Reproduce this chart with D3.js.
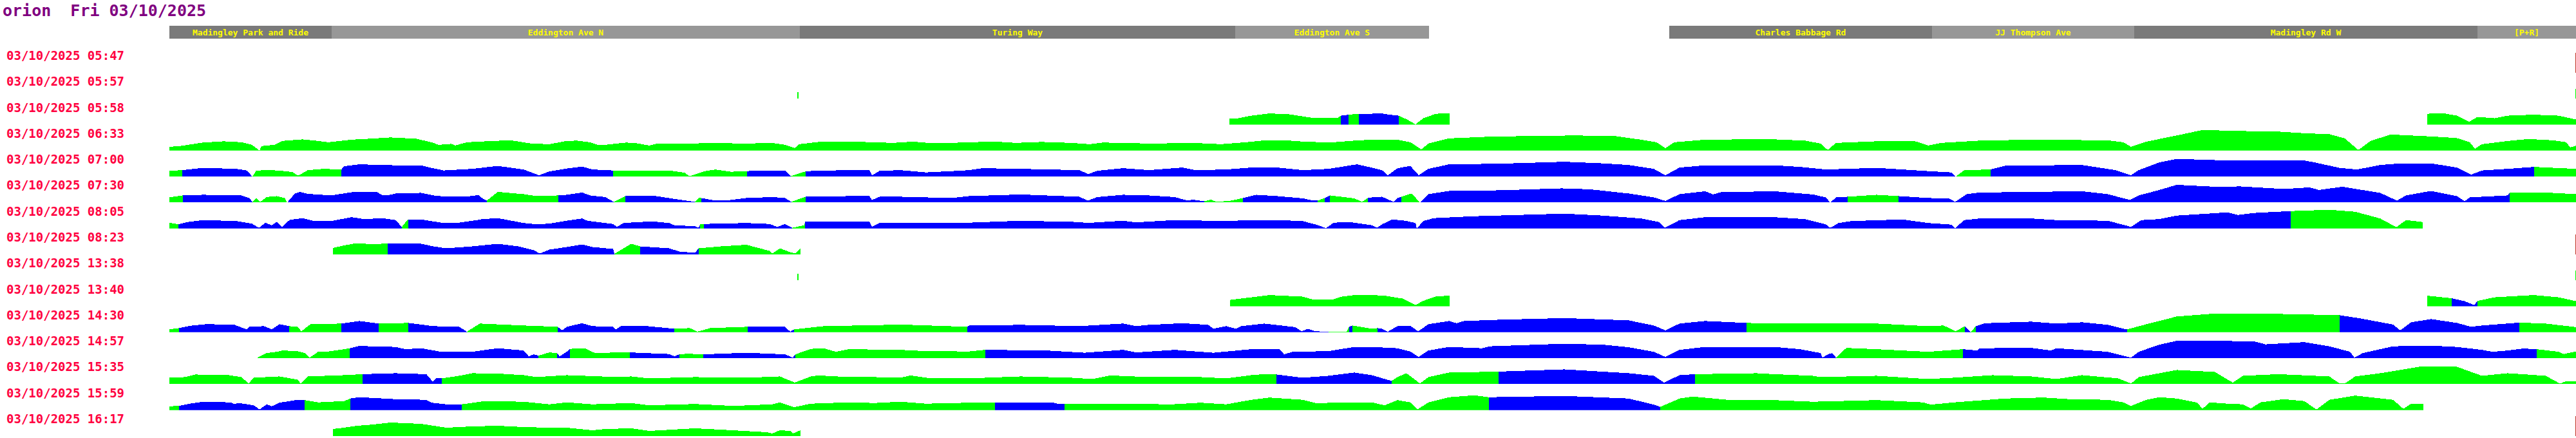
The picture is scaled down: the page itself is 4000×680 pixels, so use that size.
<!DOCTYPE html>
<html><head><meta charset="utf-8">
<script src="https://cdn.jsdelivr.net/npm/d3@7"></script>
<style>body{margin:0;background:#fff;overflow:hidden}</style>
</head><body>
<svg id="chart" width="4000" height="680"></svg>
<script>
// ---------- DATA ----------
const title = "orion  Fri 03/10/2025";
const runTimes = ["05:47","05:57","05:58","06:33","07:00","07:30","08:05","08:23","13:38","13:40","14:30","14:57","15:35","15:59","16:17"];
const runDate = "03/10/2025";

const stopNames = ["Madingley Park and Ride","Eddington Ave N","Turing Way","Eddington Ave S","Charles Babbage Rd","JJ Thompson Ave","Madingley Rd W","[P+R]"];
const stopFrom = [0,252,979,1655,2329,2737,3051,3584];
const stopTo   = [252,979,1655,1956,2737,3051,3584,3737];

// profiles: [distance along route, speed]
const p0558a = [[1646,10],[1660,10],[1680,14],[1708,17.5],[1740,16],[1772,11],[1815,11],[1819,14],[1831,15.5],[1847,17],[1867,17],[1879,18],[1891,16],[1909,14],[1923,7.5],[1935,0.5],[1947,10],[1967,17],[1988,17.5]];
const p0558b = [[3506,17],[3532,17.5],[3552,14],[3571,4.5],[3584,12],[3611,10],[3631,14],[3671,15.5],[3710,14],[3737,8]];
const c0558 = [[1646,"g"],[1819,"b"],[1831,"g"],[1847,"b"],[1909,"g"]];

const p0633 = [[0,6],[16,7],[52,12.5],[84,14.5],[112,13],[128,9],[140,0],[143,7],[163,9],[175,15],[207,17.5],[231,15],[247,13],[283,17],[311,18.5],[343,20.5],[383,18.5],[407,13],[418,9],[438,10.5],[444,8],[462,13],[502,15],[530,16],[562,11],[590,10],[606,13],[617,15],[633,15.5],[653,13],[665,9],[677,9],[709,12.5],[725,11.5],[745,8],[756,10.5],[816,11],[832,12],[896,11],[936,12],[956,9],[971,4],[978,10],[1008,13.5],[1055,14],[1095,13],[1123,12],[1155,14],[1183,11.5],[1215,12],[1242,13],[1282,14],[1314,12],[1354,13.5],[1401,12],[1429,10],[1449,12.5],[1481,12],[1521,11],[1561,11.5],[1601,11.5],[1633,10],[1672,13],[1696,15.5],[1740,15.5],[1768,13.5],[1808,13],[1840,15.5],[1867,17],[1907,17],[1927,13],[1944,2],[1955,11],[1987,19],[2046,21.5],[2126,23],[2186,23.5],[2246,22.5],[2285,17],[2309,13],[2323,4],[2337,13],[2385,17],[2445,17.5],[2492,17.5],[2540,15.5],[2564,11],[2575,1],[2588,12],[2651,14.5],[2711,14.5],[2731,8],[2751,12],[2811,15.5],[2891,17],[3010,16],[3034,13],[3046,6],[3070,14],[3117,23.5],[3157,32],[3216,30.5],[3275,29.5],[3315,27],[3354,25.5],[3378,19],[3399,1],[3418,15],[3449,25],[3512,22],[3552,19.5],[3572,13],[3580,3],[3591,10],[3631,15],[3663,18],[3702,16],[3722,13],[3728,5],[3737,7.5]];
const c0633 = [[0,"g"]];

const p0700 = [[0,9],[20,10],[52,13.5],[104,12],[120,9.5],[129,0],[135,9.5],[159,10],[179,8.5],[191,7],[200,1.5],[215,10],[239,12],[267,11],[271,16],[295,19],[351,17.5],[391,17.5],[407,13.5],[426,9.5],[470,12],[510,16.5],[550,11],[574,2],[590,8],[617,12.5],[641,15.5],[657,11],[689,9.5],[717,9.5],[776,9.5],[800,6],[808,0.5],[832,8.5],[848,11],[872,7.5],[897,8.5],[920,9.5],[956,9.5],[965,0.5],[986,7.5],[988,8],[1000,9],[1055,10],[1087,10],[1091,2],[1103,9],[1135,10],[1175,6.5],[1215,8.5],[1242,10],[1262,13],[1322,12],[1413,10],[1427,4],[1441,9],[1481,13],[1521,10],[1573,14],[1593,10],[1641,11],[1680,14],[1720,14],[1760,10],[1800,12],[1844,19],[1867,14],[1883,10],[1892,2],[1907,13],[1927,16.5],[1940,2],[1955,12],[1987,19],[2066,20],[2166,23],[2226,20.5],[2266,18],[2305,12],[2323,2],[2345,14],[2385,17.5],[2492,17.5],[2532,15],[2572,11],[2651,13.5],[2731,8.5],[2767,6.5],[2774,0],[2787,10],[2828,11],[2851,17],[2970,18],[3022,10],[3046,2],[3058,10],[3090,22],[3117,27.5],[3196,25],[3315,25],[3331,22],[3370,13.5],[3397,11],[3433,18],[3465,20.5],[3512,20.5],[3552,14],[3574,3],[3591,9.5],[3631,12],[3672,15],[3737,12]];
const c0700 = [[0,"g"],[20,"b"],[129,"g"],[267,"b"],[689,"g"],[897,"b"],[965,"g"],[988,"b"],[2774,"g"],[2828,"b"],[3672,"g"]];

const p0730 = [[0,8],[21,11],[52,12],[112,11],[124,7],[129,1],[135,6.5],[141,1],[151,8.5],[167,10],[179,7],[183,0],[195,14],[203,16.5],[215,13.5],[251,11],[283,16],[323,16],[331,11],[343,12],[351,14],[391,15],[410,11],[430,9],[470,10],[480,12],[486,6.5],[493,3],[510,16.5],[550,13],[570,10],[604,11],[617,12],[641,15.5],[653,11],[677,8.5],[690,1],[707,9.5],[708,10],[756,10],[788,5],[816,1],[822,7],[826,7],[848,3],[864,3],[896,7],[936,8.5],[956,7],[966,1],[982,7],[988,9],[1055,10],[1087,10],[1091,4],[1103,9],[1135,9],[1215,7],[1242,10],[1322,12.5],[1413,9],[1426,3],[1441,8.5],[1481,12],[1521,11],[1561,8.5],[1581,3],[1589,4.5],[1607,2],[1617,4.5],[1627,1],[1649,3],[1667,7],[1688,12],[1720,10],[1760,6.5],[1776,3],[1783,3],[1794,7],[1802,11],[1840,6.5],[1852,1],[1861,7],[1867,8],[1883,9],[1901,1],[1907,7],[1919,11],[1929,14],[1942,0],[1955,13],[1987,18],[2066,19],[2162,22],[2206,20.5],[2266,14],[2305,8],[2323,2.5],[2345,13],[2385,17.5],[2397,12.5],[2409,16],[2492,17.5],[2552,12.5],[2572,8],[2579,0],[2588,8],[2606,9],[2651,12],[2685,10],[2731,7],[2763,6.5],[2773,1],[2791,13],[2811,15.5],[2891,16.5],[2970,17.5],[3010,13],[3044,4],[3058,11],[3090,19.5],[3117,27.5],[3176,24.5],[3216,25],[3283,21],[3323,23.5],[3338,19.5],[3374,24.5],[3433,15],[3459,3],[3473,11],[3512,18],[3552,10],[3564,2],[3572,8],[3631,11],[3634,15.5],[3690,15.5],[3737,13]];
const c0730 = [[0,"g"],[21,"b"],[129,"g"],[183,"b"],[493,"g"],[604,"b"],[690,"g"],[708,"b"],[816,"g"],[826,"b"],[966,"g"],[988,"b"],[1607,"g"],[1667,"b"],[1783,"g"],[1794,"b"],[1802,"g"],[1861,"b"],[1913,"g"],[1942,"b"],[2606,"g"],[2685,"b"],[3634,"g"]];

const p0805 = [[0,9],[14,6.5],[28,10],[52,13],[104,11.5],[128,7.5],[139,1],[149,9],[159,5],[167,10.5],[175,2.5],[187,13.5],[207,16],[223,12],[251,11.5],[283,17.5],[303,14.5],[331,16],[351,13],[361,2.5],[367,10],[371,14],[391,14],[422,9],[450,9],[478,13],[486,14.5],[510,16],[550,8.5],[570,6.5],[590,7.5],[617,12],[641,15.5],[649,12],[689,7],[695,2.5],[705,8.5],[749,11],[776,8.5],[784,5],[816,3.5],[822,1],[824,6.5],[830,7],[896,8.5],[932,7],[944,2.5],[956,7],[967,1],[986,5],[987,10.5],[1087,10.5],[1091,2.5],[1103,9],[1175,8.5],[1242,9],[1322,12],[1413,10],[1425,8.5],[1481,12],[1501,9.5],[1561,13],[1641,11.5],[1680,13],[1720,13],[1760,11.5],[1784,5],[1796,0.5],[1808,9],[1832,10],[1867,5],[1875,1],[1883,6.5],[1899,14],[1919,12],[1935,8.5],[1937,0],[1947,11.5],[1963,16],[2026,19],[2166,23],[2226,20],[2285,15.5],[2313,10],[2322,1],[2345,13],[2385,17.5],[2492,17.5],[2540,14.5],[2572,6.5],[2579,1],[2592,8.5],[2612,11.5],[2691,14],[2731,8.5],[2767,6],[2773,0.5],[2787,13],[2811,15.5],[2891,15.5],[2930,13],[3010,12],[3046,2.5],[3062,13],[3090,14.5],[3117,20],[3196,25],[3212,21],[3236,24],[3294,27],[3354,29],[3394,26],[3433,15.5],[3458,2],[3473,13],[3499,10]];
const c0805 = [[0,"g"],[14,"b"],[361,"g"],[371,"b"],[824,"g"],[830,"b"],[967,"g"],[987,"b"],[3294,"g"]];

const p0823 = [[254,10],[271,14],[291,17.5],[319,15.5],[339,17.5],[391,16.5],[410,12.5],[430,9.5],[470,12.5],[510,16.5],[542,12.5],[566,6.5],[575,1.5],[590,7.5],[617,11.5],[641,15.5],[657,11.5],[689,8.5],[691,1],[717,16.5],[731,12.5],[776,9.5],[792,4.5],[816,2.5],[822,9.5],[856,12.5],[896,15],[932,5.5],[936,1.5],[948,9.5],[964,3.5],[972,1.5],[980,10]];
const c0823 = [[254,"g"],[339,"b"],[691,"g"],[731,"b"],[822,"g"]];

const p1340a = [[1647,10],[1680,14],[1708,17.5],[1760,15],[1776,10.5],[1808,11],[1820,15],[1840,17.5],[1867,17.5],[1887,16.5],[1915,12],[1935,2],[1947,8.5],[1967,15.5],[1988,16.5]];
const p1340b = [[3506,16.5],[3544,12.5],[3564,8],[3579,2],[3584,8.5],[3611,14],[3671,17.5],[3710,14],[3737,8]];
const c1340 = [[1647,"g"],[3544,"b"],[3584,"g"]];

const p1430 = [[0,4.5],[15,6.5],[32,10],[56,12.5],[100,12],[120,4.5],[124,8.5],[147,9.5],[159,4.5],[171,12.5],[186,9.5],[199,8.5],[205,1.5],[219,12.5],[267,13.5],[295,17.5],[325,13.5],[371,14.5],[410,9.5],[450,8.5],[462,1],[482,13.5],[550,10.5],[603,8.5],[610,3],[617,8.5],[641,14],[657,9.5],[689,8.5],[693,4],[701,9.5],[737,10],[784,5.5],[808,6.5],[820,1],[840,6.5],[898,8.5],[956,8.5],[964,1],[970,4.5],[1016,9.5],[1095,11],[1135,12],[1239,8.5],[1242,10.5],[1322,11.5],[1413,9.5],[1481,13.5],[1501,9.5],[1521,11.5],[1573,14],[1613,11.5],[1621,5.5],[1641,9.5],[1656,5.5],[1664,9.5],[1700,13.5],[1748,8],[1758,1.5],[1768,5.5],[1780,1.5],[1800,1],[1828,1],[1832,8.5],[1837,10.5],[1867,5.5],[1876,6.5],[1883,5.5],[1892,1],[1907,9.5],[1927,10],[1939,1.5],[1955,12.5],[1987,17.5],[1999,14],[2010,17.5],[2066,19.5],[2166,22],[2266,18.5],[2305,10.5],[2323,3],[2345,13.5],[2385,17.5],[2449,14.5],[2492,13.5],[2651,13.5],[2731,9.5],[2755,10.5],[2774,1.5],[2788,9.5],[2797,0],[2805,9.5],[2819,14],[2891,16.5],[2930,13.5],[2970,15.5],[3010,11.5],[3034,5.5],[3040,4.5],[3070,12.5],[3117,24.5],[3176,29],[3251,29],[3370,26.5],[3402,21.5],[3453,12],[3464,3],[3481,15.5],[3512,20.5],[3552,14.5],[3574,8.5],[3591,10.5],[3649,15],[3690,13.5],[3737,8]];
const c1430 = [[0,"g"],[15,"b"],[186,"g"],[267,"b"],[325,"g"],[371,"b"],[462,"g"],[603,"b"],[784,"g"],[898,"b"],[970,"g"],[1239,"b"],[1800,"g"],[1832,"b"],[1837,"g"],[1876,"b"],[2449,"g"],[2788,"b"],[2797,"g"],[2805,"b"],[3040,"g"],[3370,"b"],[3649,"g"]];

const p1457 = [[137,1],[143,4],[151,8],[167,10],[175,12],[199,11],[211,8],[218,1],[231,10],[247,10.5],[271,14],[280,15.5],[295,19],[351,17.5],[367,14],[391,15.5],[422,10],[470,10],[510,15.5],[550,12],[558,3],[566,6],[573,4],[590,9],[602,8],[606,3],[617,10],[622,14.5],[645,15.5],[661,8],[697,9],[715,9],[776,6.5],[784,3],[792,6],[804,7],[829,6],[896,8.5],[956,6],[968,1],[972,6],[996,14.5],[1016,15.5],[1035,10],[1055,14],[1135,13],[1175,11],[1242,10.5],[1267,13],[1362,12],[1421,8.5],[1441,10],[1481,13],[1501,9],[1561,13],[1621,8.5],[1680,14],[1724,14],[1731,6],[1744,10],[1800,11],[1840,17.5],[1867,17.5],[1907,15.5],[1927,10.5],[1940,2],[1955,12],[1987,17.5],[2038,15.5],[2050,18.5],[2166,22.5],[2226,21],[2266,17],[2305,10],[2323,2],[2345,13],[2385,17.5],[2492,17.5],[2532,14],[2564,8],[2567,1],[2576,6.5],[2582,8],[2588,1],[2604,16],[2651,14],[2731,10],[2785,14],[2807,12],[2811,15.5],[2891,16],[2922,12],[2930,15.5],[3010,10],[3046,1],[3058,10],[3090,21],[3117,27],[3236,26.5],[3255,21.5],[3315,25],[3354,18.5],[3386,10],[3393,1],[3406,8],[3453,18.5],[3512,19.5],[3552,17.5],[3591,13],[3607,10],[3631,12],[3655,15],[3676,14],[3710,10],[3718,6.5],[3737,10.5]];
const c1457 = [[137,"g"],[280,"b"],[573,"g"],[602,"b"],[622,"g"],[715,"b"],[792,"g"],[829,"b"],[972,"g"],[1267,"b"],[2588,"g"],[2785,"b"],[3676,"g"]];

const p1535 = [[0,10],[24,11],[40,15],[92,14],[112,11],[123,1],[131,10],[171,12],[199,7],[204,1],[215,12],[271,14],[300,15.5],[351,17],[399,15.5],[409,4],[414,9],[423,9],[450,13],[470,17],[510,16.5],[550,14],[570,11],[617,14],[657,12.5],[697,11],[717,12],[745,9],[816,11],[896,10],[948,12],[971,2.5],[996,12],[1008,13.5],[1055,11],[1095,11],[1135,10],[1151,13.5],[1183,9],[1242,9],[1322,12],[1401,10],[1433,8],[1461,13.5],[1521,11],[1601,11],[1641,9],[1680,14],[1700,15.5],[1719,15],[1760,10],[1800,13],[1840,18],[1867,14],[1891,7],[1898,5],[1907,11],[1921,17],[1942,1],[1955,11],[1987,18],[2064,19.5],[2166,23],[2266,17],[2305,13],[2321,2.5],[2345,14],[2369,15.5],[2465,17],[2492,15.5],[2552,13],[2564,11],[2651,13],[2731,8],[2771,10],[2831,14],[2891,12],[2930,8],[2970,14],[3026,9],[3046,1],[3058,11],[3117,22],[3176,19],[3204,2.5],[3220,13],[3275,15.5],[3354,12],[3370,1],[3378,1],[3394,12],[3433,17],[3493,27],[3552,27],[3591,13],[3631,17],[3690,13],[3712,1],[3722,4.5],[3737,4.5]];
const c1535 = [[0,"g"],[300,"b"],[423,"g"],[1719,"b"],[1898,"g"],[2064,"b"],[2369,"g"]];

const p1559 = [[0,6],[15,6.5],[32,10],[52,13],[96,12],[100,9.5],[108,11],[131,7.5],[140,1],[151,9],[159,6],[171,11.5],[199,16],[210,15.5],[231,12],[271,14],[281,18],[295,20],[351,17],[399,16],[407,11.5],[430,9],[454,9],[490,14],[550,13],[590,9],[617,12],[657,9],[717,11],[745,7.5],[816,9.5],[876,6.5],[936,9],[948,12],[970,4.5],[996,10],[1055,12],[1095,11],[1135,13],[1175,10],[1242,11.5],[1282,12],[1370,12],[1381,9.5],[1390,9.5],[1441,10],[1521,10],[1549,8.5],[1601,11.5],[1641,9],[1680,16],[1708,19.5],[1760,16],[1780,11],[1867,12],[1887,7.5],[1907,15.5],[1927,12],[1938,1],[1955,12],[1987,20],[2026,23],[2049,20],[2166,22],[2266,18],[2305,8.5],[2315,5],[2345,18],[2365,21],[2425,15.5],[2492,15.5],[2552,13],[2651,15.5],[2723,12],[2735,8.5],[2771,12],[2851,18],[2910,19.5],[2950,17],[3010,16],[3034,12],[3046,6.5],[3070,16],[3090,20],[3117,18],[3149,11.5],[3157,2],[3168,12],[3196,10],[3220,9],[3232,2.5],[3247,12],[3283,17],[3315,14],[3334,1],[3354,16],[3394,22.5],[3453,16],[3469,2],[3481,10],[3500,10]];
const c1559 = [[0,"g"],[15,"b"],[210,"g"],[281,"b"],[454,"g"],[1282,"b"],[1390,"g"],[2049,"b"],[2315,"g"]];

const p1617 = [[254,11],[271,13],[291,16],[317,18],[343,21],[391,19],[430,13],[470,15],[510,16],[550,14],[590,13],[617,13],[657,9],[677,11],[717,12],[745,8],[816,12],[856,10],[928,6],[936,4],[948,9],[964,8],[968,4],[980,9]];
const c1617 = [[254,"g"]];

// single-sample marks (distance, speed)
const tick0557 = [[975,10],[3736,15]];
const tick1338 = [[975,10],[3736,15]];
// end-of-route markers
const endMarkRuns = ["05:47","08:23","16:17"];
const endMarkDist = 3736;
const endMarkHeight = 31;

// ---------- ASSEMBLY ----------
const runs = [
  {t:"05:47", pieces:[], colors:[], ticks:[]},
  {t:"05:57", pieces:[], colors:[], ticks:tick0557},
  {t:"05:58", pieces:[p0558a,p0558b], colors:c0558, ticks:[]},
  {t:"06:33", pieces:[p0633], colors:c0633, ticks:[]},
  {t:"07:00", pieces:[p0700], colors:c0700, ticks:[]},
  {t:"07:30", pieces:[p0730], colors:c0730, ticks:[]},
  {t:"08:05", pieces:[p0805], colors:c0805, ticks:[]},
  {t:"08:23", pieces:[p0823], colors:c0823, ticks:[]},
  {t:"13:38", pieces:[], colors:[], ticks:tick1338},
  {t:"13:40", pieces:[p1340a,p1340b], colors:c1340, ticks:[]},
  {t:"14:30", pieces:[p1430], colors:c1430, ticks:[]},
  {t:"14:57", pieces:[p1457], colors:c1457, ticks:[]},
  {t:"15:35", pieces:[p1535], colors:c1535, ticks:[]},
  {t:"15:59", pieces:[p1559], colors:c1559, ticks:[]},
  {t:"16:17", pieces:[p1617], colors:c1617, ticks:[]}
];

// ---------- DRAW ----------
const svg = d3.select("#chart");
const colorOf = {g:"#00ff00", b:"#0000ff"};
const x = d3.scaleLinear().domain([0,3737]).range([263,4000]);
const speed = d3.scaleLinear().domain([0,40]).range([0,40]);
const rowBase = d3.scaleLinear().domain([0, runTimes.length-1]).range([113, 677]);
const defs = svg.append("defs");

svg.append("text").attr("x",4).attr("y",25)
  .attr("font-family","DejaVu Sans Mono").attr("font-weight","bold").attr("font-size",25)
  .attr("fill","#800080").attr("xml:space","preserve").style("white-space","pre").text(title);

// header of stops
const hdr = svg.append("g");
stopNames.forEach((n,i)=>{
  hdr.append("rect").attr("x",x(stopFrom[i])).attr("y",40)
    .attr("width",x(stopTo[i])-x(stopFrom[i])).attr("height",20)
    .attr("fill", i%2===0 ? "#7a7a7a" : "#979797");
  hdr.append("text").attr("x",(x(stopFrom[i])+x(stopTo[i]))/2).attr("y",55)
    .attr("text-anchor","middle").attr("font-family","DejaVu Sans Mono").attr("font-weight","bold").attr("font-size",13)
    .attr("fill","#ffff00").text(n);
});

// labels
runTimes.forEach((t,k)=>{
  svg.append("text").attr("x",10).attr("y",rowBase(k)-20)
    .attr("font-family","DejaVu Sans Mono").attr("font-weight","bold").attr("font-size",19)
    .attr("fill","#ff0040").text(runDate+" "+t);
});

let clipId = 0;
runs.forEach((r,k)=>{
  const base = rowBase(runTimes.indexOf(r.t));
  const area = d3.area().x(d=>x(d[0])).y0(base).y1(d=>base-speed(d[1])).curve(d3.curveLinear);
  const g = svg.append("g").attr("shape-rendering","crispEdges");
  r.pieces.forEach(piece=>{
    const s0 = piece[0][0], s1 = piece[piece.length-1][0];
    r.colors.forEach((c,i)=>{
      const cs = c[0], ce = i+1<r.colors.length ? r.colors[i+1][0] : 3737;
      const a = Math.max(cs,s0), b = Math.min(ce,s1);
      if (b <= a) return;
      const id = "clip"+(clipId++);
      defs.append("clipPath").attr("id",id).append("rect")
        .attr("x",x(a)).attr("y",base-45).attr("width",x(b)-x(a)).attr("height",45);
      g.append("path").datum(piece).attr("d",area).attr("fill",colorOf[c[1]])
        .attr("clip-path","url(#"+id+")");
    });
  });
  r.ticks.forEach(d=>{
    g.append("rect").attr("x",x(d[0])).attr("y",base-speed(d[1]))
      .attr("width",x(d[0]+1.5)-x(d[0])).attr("height",speed(d[1])).attr("fill","#00ff00");
  });
  if (endMarkRuns.includes(r.t)) {
    g.append("rect").attr("x",x(endMarkDist)).attr("y",base-speed(endMarkHeight))
      .attr("width",x(endMarkDist+1.5)-x(endMarkDist)).attr("height",speed(endMarkHeight)).attr("fill","#c0392b");
  }
});
</script>
</body></html>
